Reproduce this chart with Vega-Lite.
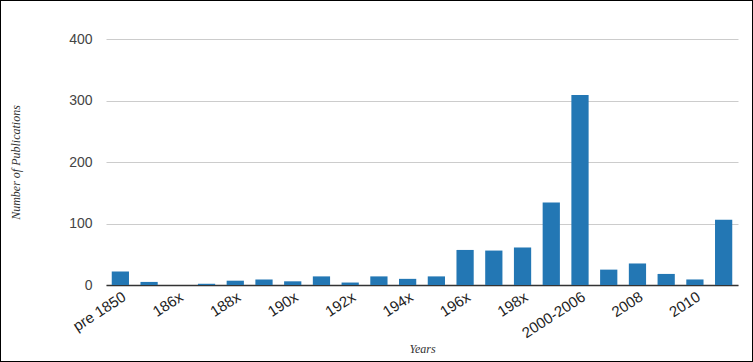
{
  "$schema": "https://vega.github.io/schema/vega-lite/v6.json",
  "width": 753,
  "height": 362,
  "autosize": "none",
  "padding": 0,
  "background": "white",
  "config": {"view": {"stroke": "#000", "strokeWidth": 2}},
  "data": {"values": [
    {"period": "pre 1850", "count": 22},
    {"period": "185x", "count": 5},
    {"period": "186x", "count": 0},
    {"period": "187x", "count": 2},
    {"period": "188x", "count": 7},
    {"period": "189x", "count": 9},
    {"period": "190x", "count": 6},
    {"period": "191x", "count": 14},
    {"period": "192x", "count": 4},
    {"period": "193x", "count": 14},
    {"period": "194x", "count": 10},
    {"period": "195x", "count": 14},
    {"period": "196x", "count": 57},
    {"period": "197x", "count": 56},
    {"period": "198x", "count": 61},
    {"period": "199x", "count": 134},
    {"period": "2000-2006", "count": 309},
    {"period": "2007", "count": 25},
    {"period": "2008", "count": 35},
    {"period": "2009", "count": 18},
    {"period": "2010", "count": 9},
    {"period": "2011", "count": 106}
  ]},
  "mark": {"type": "bar", "color": "#2377b4"},
  "encoding": {
    "x": {
      "field": "period",
      "type": "nominal",
      "sort": null,
      "scale": {"paddingInner": 0.4, "paddingOuter": 0.2, "range": [106, 738]},
      "axis": {
        "values": ["pre 1850", "186x", "188x", "190x", "192x", "194x", "196x", "198x", "2000-2006", "2008", "2010"],
        "offset": -77,
        "labelAngle": -33,
        "labelFont": "Liberation Sans",
        "labelFontSize": 15,
        "labelColor": "#222",
        "labelPadding": 4,
        "ticks": false,
        "domainColor": "#333",
        "domainWidth": 1.5,
        "title": "Years",
        "titleFont": "Liberation Serif",
        "titleFontStyle": "italic",
        "titleFontWeight": "normal",
        "titleFontSize": 12,
        "titleColor": "#333",
        "titleY": 58
      }
    },
    "y": {
      "field": "count",
      "type": "quantitative",
      "scale": {"domain": [0, 400], "range": [285, 39]},
      "axis": {
        "values": [0, 100, 200, 300, 400],
        "offset": -106,
        "labelFont": "Liberation Sans",
        "labelFontSize": 14,
        "labelColor": "#444",
        "labelPadding": 14,
        "ticks": false,
        "domain": false,
        "gridColor": "#ccc",
        "title": "Number of Publications",
        "titleFont": "Liberation Serif",
        "titleFontStyle": "italic",
        "titleFontWeight": "normal",
        "titleFontSize": 12,
        "titleColor": "#333",
        "titleX": -84
      }
    }
  }
}
